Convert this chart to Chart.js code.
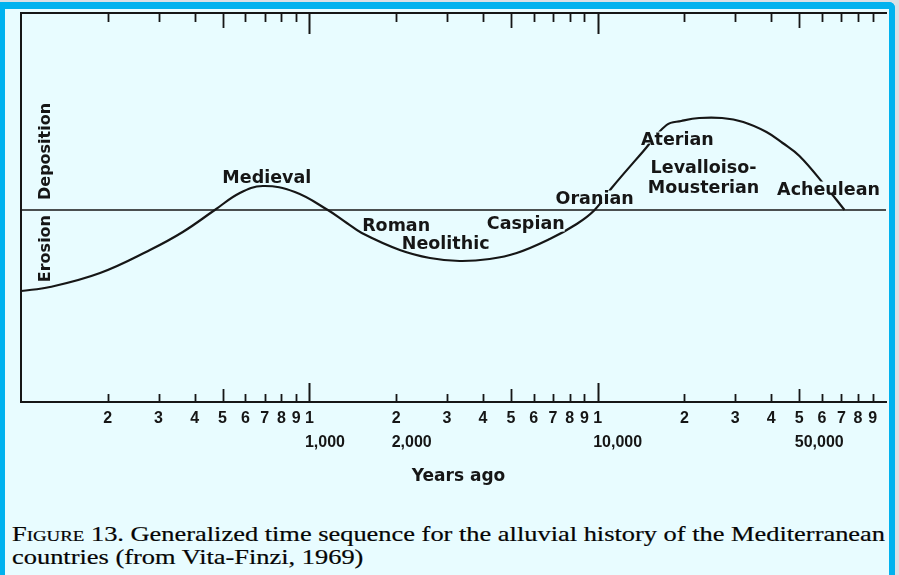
<!DOCTYPE html>
<html>
<head>
<meta charset="utf-8">
<script src="https://cdn.jsdelivr.net/npm/chart.js@4.4.0/dist/chart.umd.min.js"></script>
<style>
  html, body { margin: 0; padding: 0; }
  body { width: 899px; height: 575px; background: #d9e0e6; position: relative; overflow: hidden; }
  #frame {
    position: absolute; left: 0; top: 2px; width: 884px; height: 580px;
    background: #e8fcff;
    border-left: 5px solid #00b2ef; border-top: 7px solid #00b2ef; border-right: 6px solid #00b2ef;
    border-top-right-radius: 6px;
  }
  #chart { position: absolute; left: 0; top: 0; }
  #caption {
    position: absolute; left: 12px; top: 523px;
    font: 21px/23px "Liberation Serif", serif; color: #050505;
    -webkit-text-stroke: 0.2px #050505;
    white-space: nowrap; transform-origin: 0 0;
  }
  #caption .sc { font-variant: small-caps; }
</style>
</head>
<body>
<div id="frame"></div>
<canvas id="chart" width="899" height="500"></canvas>
<div id="caption"><span id="line1"><span class="sc">Figure</span> 13. Generalized time sequence for the alluvial history of the Mediterranean</span><br>countries (from Vita-Finzi, 1969)</div>
<script>
// alluvial curve: years ago (log axis) vs deposition (+) / erosion (-)
const years = [100, 126, 188, 280, 364, 470, 574, 690, 891, 1159, 1349, 1520, 2060, 2620, 3320, 4220,
               5240, 6820, 8460, 9760, 11180, 14320, 17340, 19500, 22500, 27000, 32000, 38500, 43800, 50100, 61200, 71800];
const levels = [-0.81, -0.77, -0.63, -0.40, -0.22, 0, 0.17, 0.24, 0.18, 0, -0.13, -0.23, -0.40, -0.48, -0.51, -0.49,
                -0.43, -0.29, -0.14, 0, 0.22, 0.58, 0.85, 0.89, 0.92, 0.92, 0.88, 0.78, 0.67, 0.54, 0.25, 0];

const baseYears = [100, 100000];
const baseLevels = [0, 0];

// stage names and where they sit on the chart
const stageNames = ['Medieval', 'Roman', 'Neolithic', 'Caspian', 'Oranian', 'Aterian', 'Levalloiso-', 'Mousterian', 'Acheulean'];
const stageYears = [712, 2000, 2970, 5630, 9760, 18900, 23300, 23300, 63200];
const stageLevels = [0.32, -0.16, -0.34, -0.14, 0.11, 0.70, 0.42, 0.22, 0.20];

const tickValues = [200, 300, 400, 500, 600, 700, 800, 900,
                    1000, 2000, 3000, 4000, 5000, 6000, 7000, 8000, 9000,
                    10000, 20000, 30000, 40000, 50000, 60000, 70000, 80000, 90000];
const bigTickValues = [1000, 2000, 10000, 50000];
const bigTickLabels = ['1,000', '2,000', '10,000', '50,000'];

const bg = '#e8fcff';
const ink = '#161616';

function mantissa(v) {
    return Math.round(v / Math.pow(10, Math.floor(Math.log10(v) + 1e-9)));
}

const drawFigure = {
    id: 'drawFigure',
    afterDatasetsDraw(chart) {
        const { ctx, chartArea: a, scales: { x, y } } = chart;
        const zeroY = y.getPixelForValue(0);
        ctx.save();

        // frame lines
        ctx.strokeStyle = ink;
        ctx.lineWidth = 2;
        ctx.beginPath();
        ctx.moveTo(a.right + 1, a.top);
        ctx.lineTo(a.left, a.top);
        ctx.lineTo(a.left, a.bottom);
        ctx.lineTo(a.right + 1, a.bottom);
        ctx.stroke();

        // ticks on top (down) and bottom (up)
        tickValues.forEach(v => {
            const px = Math.round(x.getPixelForValue(v)) + 0.5;
            const m = mantissa(v);
            const top = m === 1 ? 21 : (m === 5 ? 15 : 9);
            const bot = m === 1 ? 19 : (m === 5 ? 13 : 8);
            ctx.lineWidth = m === 1 ? 2 : 1.8;
            ctx.beginPath();
            ctx.moveTo(px, a.top);
            ctx.lineTo(px, a.top + top);
            ctx.moveTo(px, a.bottom);
            ctx.lineTo(px, a.bottom - bot);
            ctx.stroke();
        });

        // tick labels
        ctx.fillStyle = ink;
        ctx.font = 'bold 16px "Liberation Sans"';
        ctx.textBaseline = 'middle';
        const digitW = ctx.measureText('0').width;
        tickValues.forEach(v => {
            const px = x.getPixelForValue(v);
            ctx.textAlign = 'center';
            ctx.fillText(String(mantissa(v)), px, a.bottom + 17);
            const k = bigTickValues.indexOf(v);
            if (k >= 0) {
                ctx.textAlign = 'left';
                ctx.fillText(bigTickLabels[k], px - digitW / 2, a.bottom + 41);
            }
        });

        // axis title
        ctx.font = 'bold 17px "DejaVu Sans"';
        ctx.textAlign = 'center';
        ctx.fillText('Years ago', (a.left + a.right) / 2 + 5, a.bottom + 75);

        // side labels
        ctx.save();
        ctx.font = 'bold 16px "DejaVu Sans"';
        ctx.translate(a.left + 25, zeroY);
        ctx.rotate(-Math.PI / 2);
        ctx.textAlign = 'left';
        ctx.fillText('Deposition', 10, 0);
        ctx.textAlign = 'right';
        ctx.fillText('Erosion', -5, 0);
        ctx.restore();

        // stage labels, masking the curve behind them
        ctx.font = 'bold 17.5px "DejaVu Sans"';
        ctx.textAlign = 'center';
        stageNames.forEach((name, i) => {
            const px = x.getPixelForValue(stageYears[i]);
            const py = y.getPixelForValue(stageLevels[i]);
            const m = ctx.measureText(name);
            ctx.fillStyle = bg;
            ctx.fillRect(px - m.width / 2, py - m.actualBoundingBoxAscent + 1,
                         m.width, m.actualBoundingBoxAscent + m.actualBoundingBoxDescent - 2);
            ctx.fillStyle = ink;
            ctx.fillText(name, px, py);
        });

        ctx.restore();
    }
};

new Chart(document.getElementById('chart').getContext('2d'), {
    type: 'line',
    data: {
        datasets: [{
            data: years.map((v, i) => ({ x: v, y: levels[i] })),
            borderColor: ink,
            borderWidth: 2.2,
            pointRadius: 0,
            tension: 0.4,
            fill: false
        }, {
            data: baseYears.map((v, i) => ({ x: v, y: baseLevels[i] })),
            borderColor: ink,
            borderWidth: 1.3,
            pointRadius: 0,
            fill: false
        }]
    },
    options: {
        responsive: false,
        animation: false,
        layout: { padding: { left: 21, top: 13, right: 13, bottom: 98 } },
        plugins: { legend: { display: false }, tooltip: { enabled: false } },
        scales: {
            x: { type: 'logarithmic', min: 100, max: 100000, display: false },
            y: { type: 'linear', min: -1.92, max: 1.97, display: false }
        }
    },
    plugins: [drawFigure]
});

// stretch the caption so its first line spans the panel like the printed figure
const line1 = document.getElementById('line1');
document.getElementById('caption').style.transform = 'scaleX(' + (873 / line1.getBoundingClientRect().width) + ')';
</script>
</body>
</html>
